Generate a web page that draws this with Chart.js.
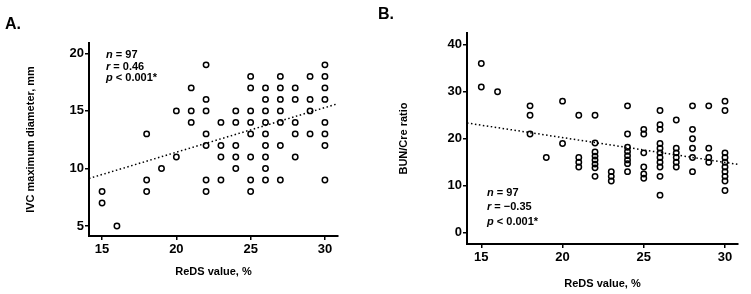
<!DOCTYPE html>
<html>
<head>
<meta charset="utf-8">
<script src="https://cdn.jsdelivr.net/npm/chart.js@4.4.1/dist/chart.umd.min.js"></script>
<style>
  body { margin: 0; background: #fff; font-family: "Liberation Sans", Arial, sans-serif; }
  #wrap { position: relative; width: 751px; height: 294px; overflow: hidden; }
  .panel { position: absolute; top: 0; width: 375px; height: 294px; }
  .label { position: absolute; font-weight: bold; font-size: 16px; line-height: 16px; }
  .stats { position: absolute; font-weight: bold; font-size: 11px; white-space: nowrap; }
</style>
</head>
<body>
<div id="wrap">
  <div class="panel" style="left:0"><canvas id="chartA" width="375" height="294"></canvas></div>
  <div class="panel" style="left:376px"><canvas id="chartB" width="375" height="294"></canvas></div>
  <div class="label" style="left:5px;top:16px">A.</div>
  <div class="label" style="left:378px;top:6px">B.</div>
  <div class="stats" style="left:106px;top:49px;line-height:11.7px"><i>n</i> = 97<br><i>r</i> = 0.46<br><i>p</i> &lt; 0.001*</div>
  <div class="stats" style="left:487px;top:185px;line-height:14.4px"><i>n</i> = 97<br><i>r</i> = &minus;0.35<br><i>p</i> &lt; 0.001*</div>
</div>
<script>
// panel A: ReDS value vs IVC maximum diameter
const redsA = [22, 30,
  25, 27, 29, 30,
  21, 25, 26, 27, 28, 30,
  22, 26, 27, 28, 29, 30,
  20, 21, 22, 24, 25, 26, 27, 29,
  21, 23, 24, 25, 26, 27, 28, 30,
  18, 22, 25, 26, 28, 29, 30,
  22, 23, 24, 26, 27, 30,
  20, 23, 24, 25, 26, 28,
  19, 24, 26,
  18, 22, 23, 25, 26, 27, 30,
  15, 18, 22, 25,
  15,
  16];
const ivcA = [19, 19,
  18, 18, 18, 18,
  17, 17, 17, 17, 17, 17,
  16, 16, 16, 16, 16, 16,
  15, 15, 15, 15, 15, 15, 15, 15,
  14, 14, 14, 14, 14, 14, 14, 14,
  13, 13, 13, 13, 13, 13, 13,
  12, 12, 12, 12, 12, 12,
  11, 11, 11, 11, 11, 11,
  10, 10, 10,
  9, 9, 9, 9, 9, 9, 9,
  8, 8, 8, 8,
  7,
  5];
const trendAx = [14.12, 30.88];
const trendAy = [9.13, 15.63];

// panel B: ReDS value vs BUN/Cre ratio
const redsB = [15, 15,
  16,
  18, 18, 18,
  19,
  20, 20,
  21, 21, 21, 21,
  22, 22, 22, 22, 22, 22, 22, 22,
  23, 23, 23,
  24, 24, 24, 24, 24, 24, 24, 24,
  25, 25, 25, 25, 25, 25,
  26, 26, 26, 26, 26, 26, 26, 26, 26, 26, 26,
  27, 27, 27, 27, 27, 27,
  28, 28, 28, 28, 28, 28,
  29, 29, 29, 29,
  30, 30, 30, 30, 30, 30, 30, 30, 30, 30];
const bunCreB = [36, 31,
  30,
  27, 25, 21,
  16,
  28, 19,
  25, 16, 15, 14,
  25, 19.1, 17.2, 16.3, 15.5, 14.6, 13.8, 12,
  13, 12, 11,
  27, 21, 18.2, 17.3, 16.4, 15.5, 14.7, 13,
  22, 21, 17, 14, 12.5, 11.6,
  26, 23, 22, 19, 18, 17, 16, 15, 14, 12, 8,
  24, 18, 17, 16, 15, 14,
  27, 22, 20, 18, 16, 13,
  27, 18, 16, 15,
  28, 26, 17, 16, 15, 14, 13, 12, 11, 9];
const trendBx = [14.12, 30.8];
const trendBy = [23.35, 14.54];

const xTicks = [15, 20, 25, 30];
const yTicksA = [5, 10, 15, 20];
const yTicksB = [0, 10, 20, 30, 40];

Chart.defaults.font.family = '"Liberation Sans", Arial, sans-serif';
Chart.defaults.color = '#000';

function pairs(xs, ys) {
  return xs.map((x, i) => ({ x: x, y: ys[i] }));
}

function makeChart(id, cfg) {
  const ctx = document.getElementById(id).getContext('2d');
  return new Chart(ctx, {
    type: 'scatter',
    data: {
      datasets: [{
        data: pairs(cfg.trendX, cfg.trendY),
        showLine: true,
        borderColor: '#000',
        borderWidth: 1.5,
        borderDash: [1.5, 2.5],
        pointRadius: 0,
        order: 0
      }, {
        data: pairs(cfg.xs, cfg.ys),
        pointRadius: 2.7,
        pointBorderWidth: 1.5,
        borderColor: '#000',
        backgroundColor: 'rgba(0,0,0,0)',
        order: 1
      }]
    },
    options: {
      responsive: false,
      animation: false,
      layout: { padding: { left: 0, top: cfg.padTop, right: cfg.padRight, bottom: 0 } },
      plugins: { legend: { display: false }, tooltip: { enabled: false } },
      scales: {
        x: {
          type: 'linear',
          min: cfg.xMin,
          max: cfg.xMax,
          afterBuildTicks: s => { s.ticks = xTicks.map(v => ({ value: v })); },
          afterFit: s => { s.height = cfg.xHeight; },
          border: { display: true, color: '#000', width: 2 },
          grid: { drawOnChartArea: false, tickLength: 4, color: '#000', lineWidth: 1.5 },
          ticks: { color: '#000', font: { size: 13, weight: 'bold' }, padding: 2, maxRotation: 0 },
          title: { display: true, text: 'ReDS value, %', color: '#000', font: { size: 11, weight: 'bold' }, padding: { top: 0, bottom: cfg.xTitlePad } }
        },
        y: {
          type: 'linear',
          min: cfg.yMin,
          max: cfg.yMax,
          afterBuildTicks: s => { s.ticks = cfg.yTicks.map(v => ({ value: v })); },
          afterFit: s => { s.width = cfg.yWidth; },
          border: { display: true, color: '#000', width: 2 },
          grid: { drawOnChartArea: false, tickLength: 4, color: '#000', lineWidth: 1.5 },
          ticks: { color: '#000', font: { size: 13, weight: 'bold' }, padding: 1 },
          title: { display: true, text: cfg.yTitle, color: '#000', font: { size: 11, weight: 'bold' }, padding: { top: cfg.yTitlePad, bottom: 0 } }
        }
      }
    }
  });
}

makeChart('chartA', {
  xs: redsA, ys: ivcA, trendX: trendAx, trendY: trendAy,
  xMin: 14.12, xMax: 30.88, yMin: 4.13, yMax: 20.9, yTicks: yTicksA,
  yTitle: 'IVC maximum diameter, mm',
  padTop: 43, padRight: 37, xHeight: 58, yWidth: 89, xTitlePad: 15, yTitlePad: 24
});

makeChart('chartB', {
  xs: redsB, ys: bunCreB, trendX: trendBx, trendY: trendBy,
  xMin: 14.12, xMax: 30.8, yMin: -2.4, yMax: 42.5, yTicks: yTicksB,
  yTitle: 'BUN/Cre ratio',
  padTop: 33, padRight: 13, xHeight: 50, yWidth: 91, xTitlePad: 3, yTitlePad: 21
});
</script>
</body>
</html>
